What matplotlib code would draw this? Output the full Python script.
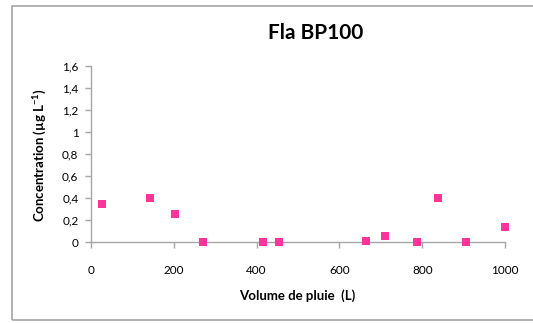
import matplotlib
matplotlib.use("Agg")
import matplotlib.pyplot as plt
from matplotlib.patches import Rectangle
from matplotlib.ticker import FuncFormatter

volume = [26, 142, 202, 271, 416, 455, 665, 709, 788, 838, 905, 1000]
concentration = [0.35, 0.405, 0.26, 0.0, 0.0, 0.0, 0.01, 0.055, 0.0, 0.40, 0.0, 0.14]
x_ticks = [0, 200, 400, 600, 800, 1000]
y_ticks = [0, 0.2, 0.4, 0.6, 0.8, 1.0, 1.2, 1.4, 1.6]

plt.rcParams['font.family'] = ['Lato', 'DejaVu Sans']
plt.rcParams['mathtext.fontset'] = 'custom'
plt.rcParams['mathtext.rm'] = 'Lato:bold'
plt.rcParams['mathtext.bf'] = 'Lato:bold'
plt.rcParams['mathtext.it'] = 'Lato:bold'

fig = plt.figure(figsize=(5.33, 3.23), dpi=100)
fig.patches.append(Rectangle((12/533, 1-320/323), 530/533, (320-5.5)/323,
                             transform=fig.transFigure, fill=False,
                             edgecolor='#A6A6A6', linewidth=1.2))
ax = fig.add_axes([91/533, 1-242.3/323, (505-91)/533, (242.3-66)/323])
ax.scatter(volume, concentration, marker='s', s=30, color='#FF3399', linewidths=0,
           zorder=3, clip_on=False)
ax.set_xlim(0, 1000)
ax.set_ylim(0, 1.6)
ax.set_xticks(x_ticks)
ax.set_yticks(y_ticks)

def fmt(v, pos):
    s = ('%.1f' % v).rstrip('0').rstrip('.')
    return s.replace('.', ',')
ax.yaxis.set_major_formatter(FuncFormatter(fmt))
ax.xaxis.set_major_formatter(FuncFormatter(lambda v, p: '%d' % v))

for s in ['top', 'right']:
    ax.spines[s].set_visible(False)
for s in ['left', 'bottom']:
    ax.spines[s].set_color('#A6A6A6')
    ax.spines[s].set_linewidth(1.0)
ax.tick_params(axis='both', colors='#A6A6A6', labelcolor='black', labelsize=8.5,
               length=4, width=1.0, direction='out')
ax.tick_params(axis='x', pad=12)
ax.tick_params(axis='y', pad=5)

fig.text(316/533, 1-33/323, 'Fla BP100', ha='center', va='center', fontsize=15, fontweight='bold')
fig.text(297/533, 1-296/323, 'Volume de pluie  (L)', ha='center', va='center', fontsize=9.5, fontweight='bold')
fig.text(40/533, 1-155/323, 'Concentration (µg L$^{-1}$)', ha='center', va='center', fontsize=9.5,
         fontweight='bold', rotation=90)

fig.savefig('out.png', dpi=100)
